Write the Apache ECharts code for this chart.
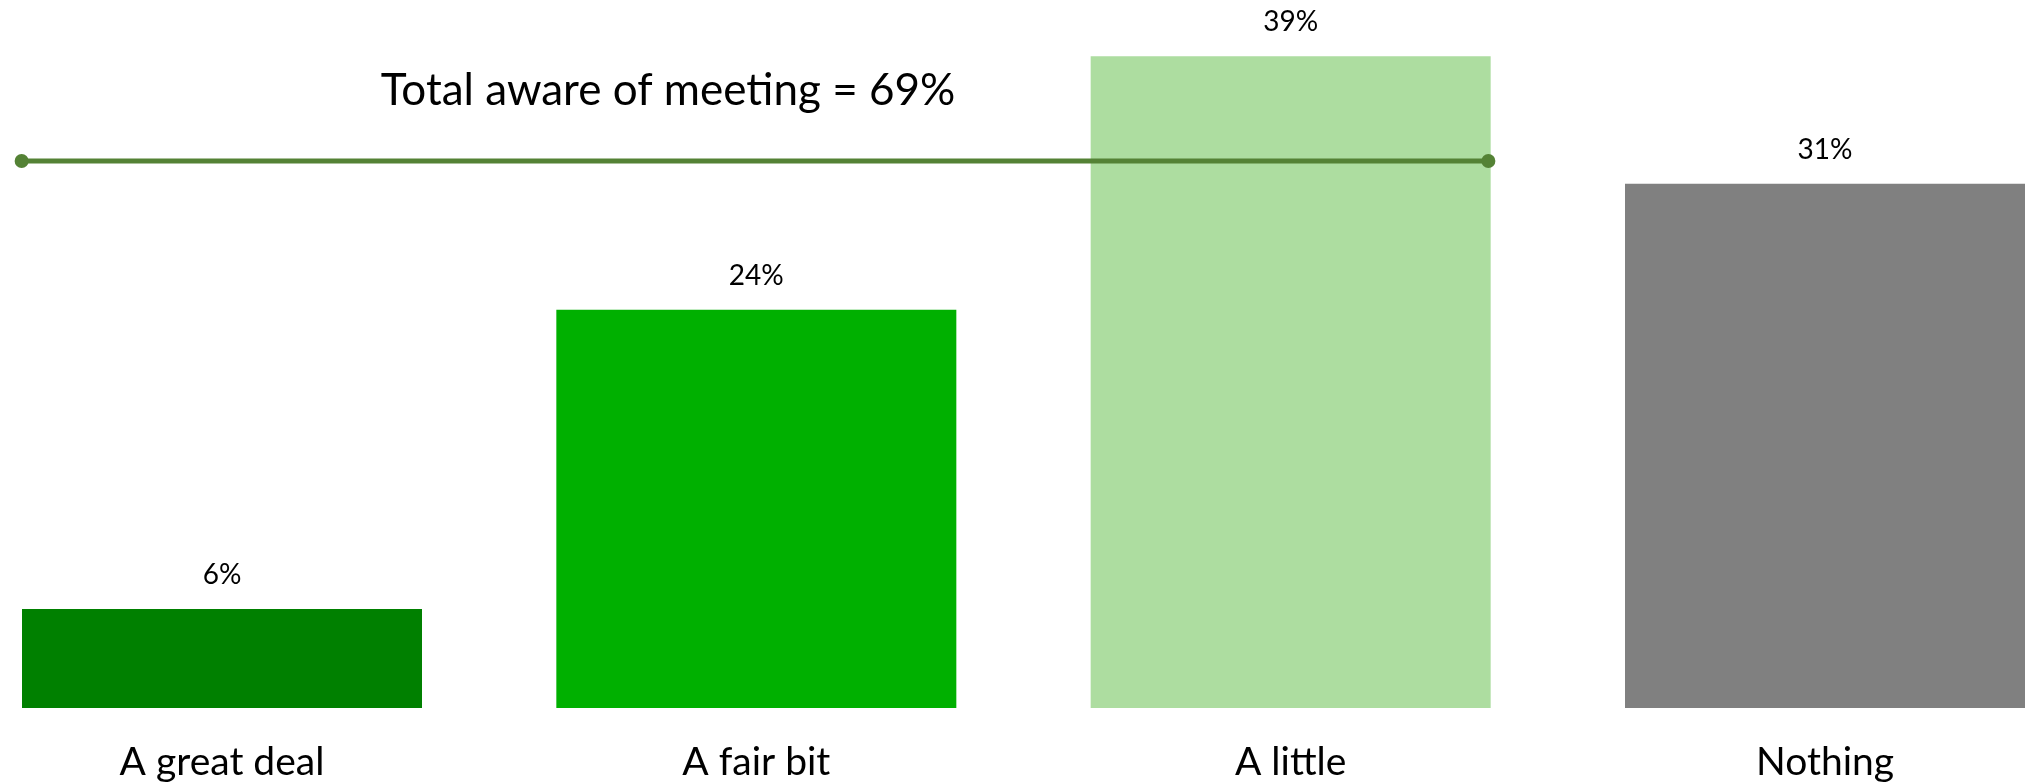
<!DOCTYPE html>
<html>
<head>
<meta charset="utf-8">
<script src="https://cdn.jsdelivr.net/npm/echarts@6/dist/echarts.min.js"></script>
<style>
html,body{margin:0;padding:0;background:#fff;}
#chart{width:2025px;height:782px;}
</style>
</head>
<body>
<div id="chart"></div>
<script>
// ---- data ----
var categories = ['A great deal', 'A fair bit', 'A little', 'Nothing'];
var values = [5.9, 23.7, 38.8, 31.2];            // percent
var valueLabels = ['6%', '24%', '39%', '31%'];  // printed labels
var barColors = ['#008000', '#00B000', '#ADDDA0', '#808080'];
var annotationText = 'Total aware of meeting = 69%';
// bracket spanning the "aware" bars (category-index units, value units)
var bracketX = [-0.375, 2.37];
var bracketLevel = 32.6;

// ---- layout ----
var W = 2025;
var gridLeft = 222, gridRight = 200, gridTop = 36, gridBottom = 70;
var band = (W - gridLeft - gridRight) / (categories.length - 1);

var chart = echarts.init(document.getElementById('chart'), null, {renderer: 'canvas'});
var font = 'Lato, "Noto Sans", sans-serif';

var option = {
  animation: false,
  backgroundColor: '#ffffff',
  title: {
    text: annotationText,
    left: 663,
    top: 86,
    textAlign: 'center',
    textVerticalAlign: 'middle',
    textStyle: {fontFamily: font, fontSize: 44, fontWeight: 'normal', color: '#000000'}
  },
  grid: [
    {left: gridLeft, right: gridRight, top: gridTop, bottom: gridBottom, containLabel: false},
    {left: 0, right: 0, top: gridTop, bottom: gridBottom, containLabel: false}
  ],
  xAxis: [
    {
      type: 'category',
      gridIndex: 0,
      data: categories,
      boundaryGap: false,
      axisLine: {show: false},
      axisTick: {show: false},
      splitLine: {show: false},
      axisLabel: {fontFamily: font, fontSize: 39, color: '#000000', margin: 35, interval: 0}
    },
    {
      type: 'value',
      gridIndex: 1,
      min: -gridLeft / band,
      max: (categories.length - 1) + gridRight / band,
      show: false,
      splitLine: {show: false}
    }
  ],
  yAxis: [
    {type: 'value', gridIndex: 0, min: 0, max: 40, show: false, splitLine: {show: false}},
    {type: 'value', gridIndex: 1, min: 0, max: 40, show: false, splitLine: {show: false}}
  ],
  series: [
    {
      type: 'bar',
      xAxisIndex: 0,
      yAxisIndex: 0,
      barWidth: 400,
      clip: false,
      data: values.map(function (v, i) {
        return {value: v, itemStyle: {color: barColors[i]}};
      }),
      label: {
        show: true,
        position: 'top',
        distance: 20,
        fontFamily: font,
        fontSize: 28,
        color: '#000000',
        formatter: function (p) { return valueLabels[p.dataIndex]; }
      }
    },
    {
      type: 'line',
      xAxisIndex: 1,
      yAxisIndex: 1,
      clip: false,
      data: [[bracketX[0], bracketLevel], [bracketX[1], bracketLevel]],
      symbol: 'circle',
      symbolSize: 14,
      lineStyle: {color: '#548235', width: 5},
      itemStyle: {color: '#548235'},
      z: 5
    }
  ]
};
chart.setOption(option);
</script>
</body>
</html>
